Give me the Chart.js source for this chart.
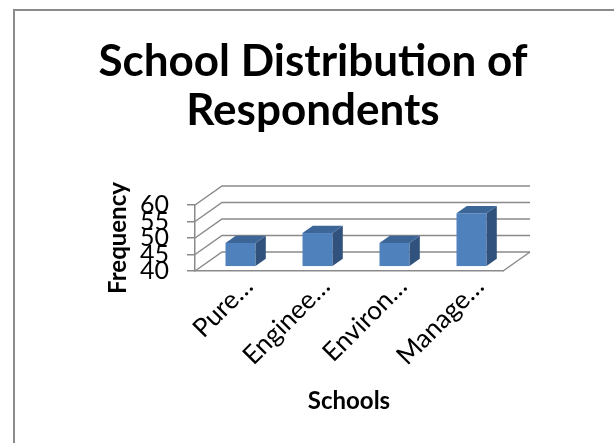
<!DOCTYPE html>
<html>
<head>
<meta charset="utf-8">
<script src="https://cdn.jsdelivr.net/npm/chart.js@4/dist/chart.umd.min.js"></script>
<style>
    html, body { margin: 0; padding: 0; background: #fff; overflow: hidden; }
    .frame { position: absolute; left: 13px; top: 9px; width: 700px; height: 500px; border: 2px solid #8c8c8c; }
    .wrap { position: absolute; left: 0; top: 0; width: 614px; height: 443px; }
</style>
</head>
<body>
<div class="frame"></div>
<div class="wrap"><canvas id="schoolChart"></canvas></div>
<script>
// data
const schools = ['Pure…', 'Enginee…', 'Environ…', 'Manage…'];
const frequency = [47, 50, 47, 56];
const yTicks = [40, 45, 50, 55, 60];

// 3D look (Excel style)
const gridColor = '#8a8a8a';
const wallDepth = { dx: 27, dy: -19 };
const barFront = '#4f81bd';
const barSide = '#31527c';
const barTop = '#3d6698';

const box3d = {
    id: 'box3d',
    beforeDatasetsDraw(chart) {
        const { ctx, chartArea: a, scales: { y } } = chart;
        ctx.save();
        ctx.strokeStyle = gridColor;
        ctx.lineWidth = 1.5;
        // back wall grid lines
        yTicks.forEach(v => {
            const py = y.getPixelForValue(v);
            ctx.beginPath();
            ctx.moveTo(a.left, py);
            ctx.lineTo(a.left + wallDepth.dx, py + wallDepth.dy);
            ctx.lineTo(a.right + wallDepth.dx, py + wallDepth.dy);
            ctx.stroke();
        });
        // floor right edge
        ctx.beginPath();
        ctx.moveTo(a.right, a.bottom);
        ctx.lineTo(a.right + wallDepth.dx, a.bottom + wallDepth.dy);
        ctx.stroke();
        ctx.restore();
    },
    afterDatasetsDraw(chart) {
        const { ctx, scales: { y: yScale } } = chart;
        const meta = chart.getDatasetMeta(0);
        const floor = yScale.getPixelForValue(yTicks[0]);
        const ox = wallDepth.dx * 0.26, oy = wallDepth.dy * 0.26;
        const bx = wallDepth.dx * 0.38, by = wallDepth.dy * 0.38;
        ctx.save();
        meta.data.forEach(bar => {
            const { x, y, width } = bar.getProps(['x', 'y', 'width'], true);
            const l = x - width / 2 + ox, r = x + width / 2 + ox;
            const t = y + oy, b = floor + oy;
            // front face
            ctx.fillStyle = barFront;
            ctx.fillRect(l, t, r - l, b - t);
            // side face
            ctx.fillStyle = barSide;
            ctx.beginPath();
            ctx.moveTo(r, t);
            ctx.lineTo(r + bx, t + by);
            ctx.lineTo(r + bx, b + by);
            ctx.lineTo(r, b);
            ctx.closePath();
            ctx.fill();
            // top face
            ctx.fillStyle = barTop;
            ctx.beginPath();
            ctx.moveTo(l, t);
            ctx.lineTo(l + bx, t + by);
            ctx.lineTo(r + bx, t + by);
            ctx.lineTo(r, t);
            ctx.closePath();
            ctx.fill();
        });
        ctx.restore();
    }
};

const ctx = document.getElementById('schoolChart').getContext('2d');
new Chart(ctx, {
    type: 'bar',
    data: {
        labels: schools,
        datasets: [{
            data: frequency,
            backgroundColor: 'rgba(0,0,0,0)',
            borderWidth: 0,
            categoryPercentage: 1,
            barPercentage: 0.39
        }]
    },
    options: {
        responsive: true,
        maintainAspectRatio: false,
        animation: false,
        devicePixelRatio: 1,
        layout: {
            padding: { left: 12, right: 0, top: 0, bottom: 20 }
        },
        plugins: {
            legend: { display: false },
            tooltip: { enabled: false },
            title: {
                display: true,
                text: ['School Distribution of', 'Respondents'],
                color: '#000',
                font: { family: 'Lato', size: 44, weight: 'bold', lineHeight: '49px' },
                padding: { top: 37, bottom: 70 }
            }
        },
        scales: {
            x: {
                grid: { display: false, drawTicks: false },
                border: { display: true, color: gridColor, width: 1.5 },
                ticks: {
                    color: '#000',
                    font: { family: 'Lato', size: 26 },
                    minRotation: 45,
                    maxRotation: 45,
                    padding: 0,
                    labelOffset: 15,
                    autoSkip: false
                },
                title: {
                    display: true,
                    text: 'Schools',
                    color: '#000',
                    font: { family: 'Lato', size: 24, weight: 'bold' },
                    padding: { top: 0, bottom: 7 }
                },
                afterFit(s) { s.height = 152; }
            },
            y: {
                min: 40,
                max: 60,
                afterBuildTicks(s) { s.ticks = yTicks.map(v => ({ value: v })); },
                grid: { drawOnChartArea: false, tickLength: 8, color: gridColor, lineWidth: 1.5 },
                border: { display: true, color: gridColor, width: 1.5 },
                ticks: {
                    color: '#000',
                    font: { family: 'Lato', size: 25 },
                    padding: 18,
                    autoSkip: false
                },
                title: {
                    display: true,
                    text: 'Frequency',
                    color: '#000',
                    font: { family: 'Lato', size: 24, weight: 'bold' },
                    padding: { top: 92, bottom: 0 }
                },
                afterFit(s) { s.width = 183; }
            },
            // empty right-hand axis that keeps room for the 3D depth
            depth: {
                type: 'linear',
                position: 'right',
                grid: { display: false },
                border: { display: false },
                ticks: { display: false },
                afterFit(s) { s.width = 111; }
            }
        }
    },
    plugins: [box3d]
});
</script>
</body>
</html>
